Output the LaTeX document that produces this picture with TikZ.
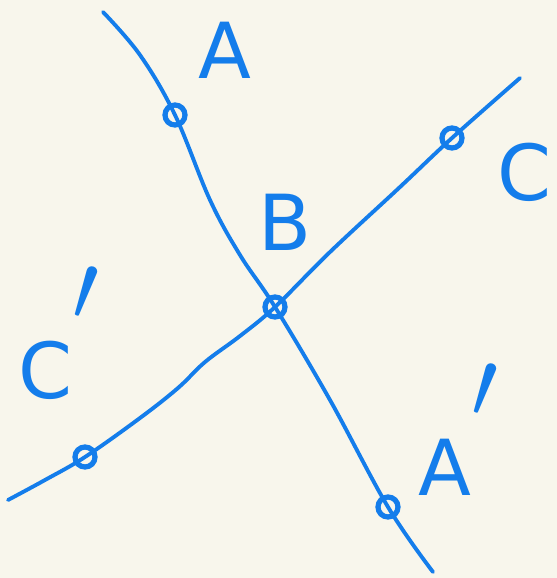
\documentclass[tikz,border=0pt]{standalone}
\usepackage{fontspec}
\setmainfont{DejaVu Sans}
\usepackage{graphicx}
\usepackage{tikz}
\usetikzlibrary{positioning, calc}

\definecolor{paper}{RGB}{248,246,236}
\definecolor{pen}{RGB}{20,125,235}

\begin{document}
\begin{tikzpicture}[
    x=0.02cm, y=-0.02cm,
    stroke/.style={draw=pen, line width=2.2pt, line cap=round, line join=round},
    pt/.style={
        circle,
        draw=pen,
        line width=3pt,
        inner sep=0pt,
        minimum size=0.4cm
    },
    lbl/.style={text=pen, font=\fontsize{44}{44}\selectfont, inner sep=0pt}
]

\fill[paper] (0,0) rectangle (557,578);
\useasboundingbox (0,0) rectangle (557,578);

% points on the lines
\coordinate (pA) at (175,115);
\coordinate (pB) at (275,307);
\coordinate (pC) at (452,138);
\coordinate (pCp) at (85,457);
\coordinate (pAp) at (388,507);
\coordinate (endA) at (103,12);
\coordinate (endAp) at (433,572);
\coordinate (endCp) at (8,500);
\coordinate (endC) at (520,78);

% line A - A'
\draw[stroke] plot[smooth, tension=0.6] coordinates {
    (endA) (140,55) (pA) (210,200) (240,255) (pB) (330,400) (pAp) (endAp)};

% line C' - C
\draw[stroke] plot[smooth, tension=0.6] coordinates {
    (endCp) (45,480) (pCp) (140,418) (178,388) (205,362) (240,336) (pB) (330,252) (400,187) (pC) (endC)};

% small circles
\node[pt] (A) at (pA) {};
\node[pt] (B) at (pB) {};
\node[pt] (C) at (pC) {};
\node[pt] (Cp) at (pCp) {};
\node[pt] (Ap) at (pAp) {};

% labels
\node[lbl] (lA) at (225,50) {A};
\node[lbl] (lB) at (285,222) {B};
\node[lbl] (lC) at (524,172) {C};
\node[lbl, anchor=base west] (lCp) at (18,398) {C\raisebox{0.55em}{\scalebox{2.2}{$'$}}};
\node[lbl, anchor=base west] (lAp) at (418,495) {A\raisebox{0.55em}{\scalebox{2.2}{$'$}}};

\end{tikzpicture}
\end{document}
